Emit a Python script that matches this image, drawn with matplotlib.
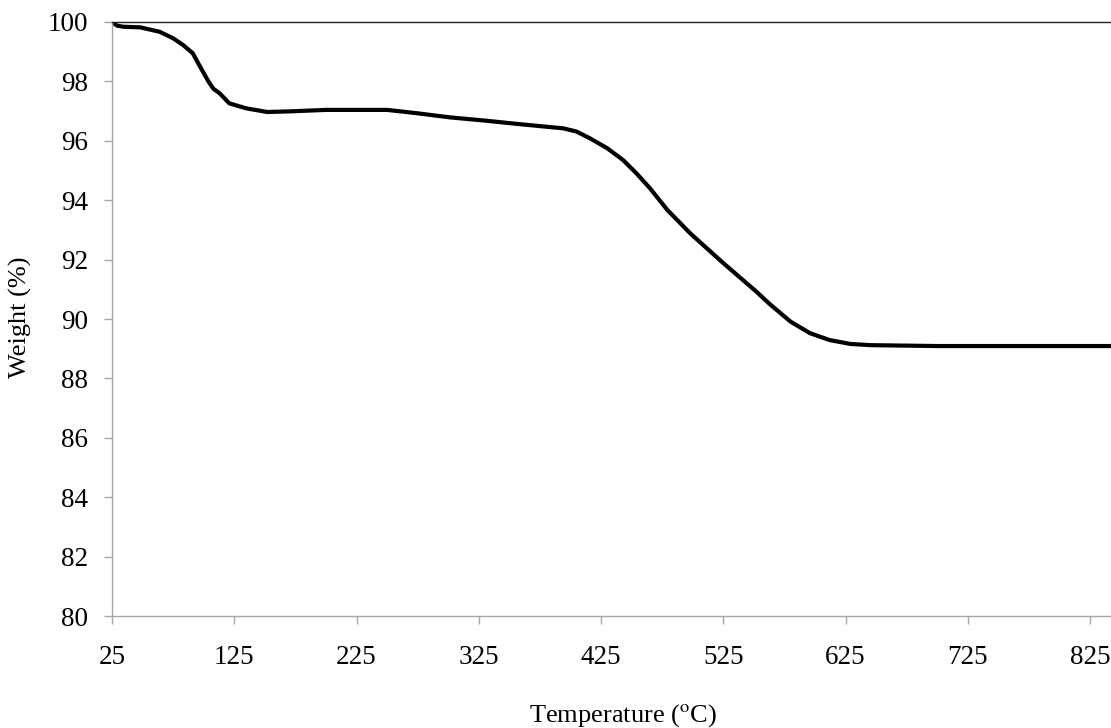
import matplotlib
matplotlib.use("Agg")
import matplotlib.pyplot as plt

plt.rcParams['font.family'] = ['Liberation Serif', 'DejaVu Serif']
plt.rcParams['mathtext.fontset'] = 'stix'

# TGA curve: temperature (deg C) vs remaining weight (%)
temperature = [25, 29, 34, 48, 64, 75, 83, 91, 97, 104, 108, 113, 121, 135,
               152, 170, 200, 250, 274, 301, 330, 356, 376, 394, 405, 416, 430,
               443, 454, 465, 479, 498, 525, 552, 563, 580, 596, 612, 629, 645,
               700, 842]
weight = [100.0, 99.88, 99.84, 99.82, 99.67, 99.45, 99.23, 98.95, 98.5, 97.99,
          97.75, 97.6, 97.26, 97.09, 96.97, 96.99, 97.04, 97.04, 96.93, 96.79,
          96.68, 96.57, 96.49, 96.42, 96.31, 96.08, 95.75, 95.35, 94.9, 94.4,
          93.68, 92.88, 91.88, 90.92, 90.5, 89.91, 89.52, 89.29, 89.16, 89.12,
          89.09, 89.09]

x_ticks = [25, 125, 225, 325, 425, 525, 625, 725, 825]
y_ticks = [80, 82, 84, 86, 88, 90, 92, 94, 96, 98, 100]

fig = plt.figure(figsize=(11.11, 7.28), dpi=100)
ax = fig.add_axes([0.1008, 0.1538, 0.8992, 0.816])

ax.plot(temperature, weight, color='black', linewidth=3,
        solid_capstyle='round', solid_joinstyle='round')

ax.set_xlim(25, 842)
ax.set_ylim(80, 100)
ax.set_xticks(x_ticks)
ax.set_yticks(y_ticks)

grey = '#a6a6a6'
ax.spines['right'].set_visible(False)
ax.spines['left'].set_color(grey)
ax.spines['bottom'].set_color(grey)
ax.spines['top'].set_color('#222222')
for s in ('left', 'bottom', 'top'):
    ax.spines[s].set_linewidth(1)

ax.tick_params(axis='both', direction='out', length=6, width=1, color=grey,
               labelsize=19.5, labelcolor='black')
ax.tick_params(axis='y', pad=11)
ax.tick_params(axis='x', pad=15)

ax.set_xlabel('Temperature ($^{\\mathrm{o}}$C)', fontsize=19, va='center')
ax.set_ylabel('Weight (%)', fontsize=19, va='center')
ax.xaxis.set_label_coords(0.512, -0.167)
ax.yaxis.set_label_coords(-0.092, 0.503)

fig.savefig('out.png', dpi=100)
